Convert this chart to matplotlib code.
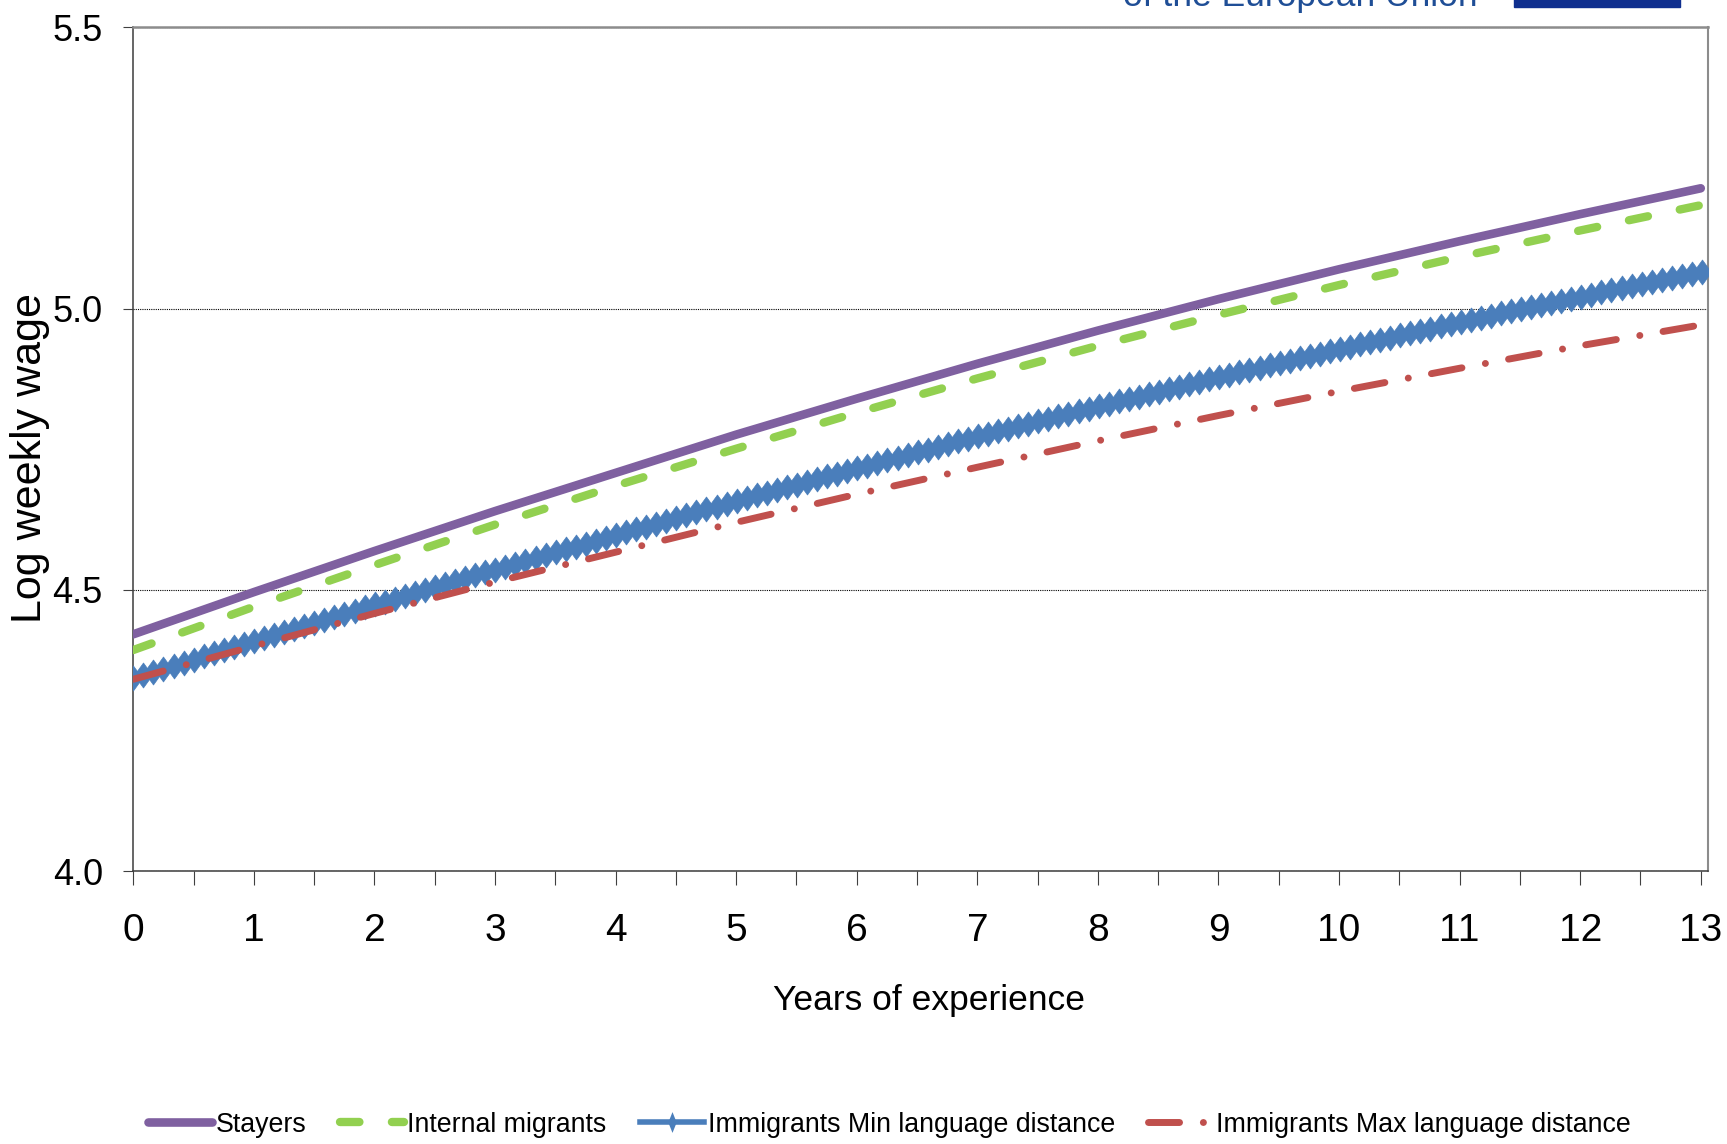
import numpy as np
import matplotlib
matplotlib.use('Agg')
import matplotlib.pyplot as plt
import matplotlib.colors as mcolors
from matplotlib.lines import Line2D
from matplotlib.path import Path
from matplotlib.patheffects import AbstractPathEffect
from matplotlib.transforms import Affine2D, IdentityTransform
from matplotlib.ticker import FixedLocator, FixedFormatter, FormatStrFormatter


plt.rcParams['font.family'] = ['Liberation Sans', 'DejaVu Sans']

# values, one per year of experience
years = [0, 1, 2, 3, 4, 5, 6, 7, 8, 9, 10, 11, 12, 13]
stayers = [4.421, 4.496, 4.569, 4.640, 4.708, 4.776, 4.840, 4.902, 4.961,
           5.017, 5.070, 5.120, 5.168, 5.214]
internal_migrants = [4.393, 4.470, 4.544, 4.616, 4.685, 4.751, 4.815, 4.876,
                     4.934, 4.989, 5.042, 5.092, 5.139, 5.184]
imm_min_dist = [4.343, 4.409, 4.474, 4.536, 4.597, 4.658, 4.716, 4.773, 4.826,
                4.878, 4.928, 4.976, 5.021, 5.065]
imm_max_dist = [4.341, 4.400, 4.458, 4.514, 4.567, 4.620, 4.670, 4.718, 4.765,
                4.810, 4.853, 4.894, 4.934, 4.971]

x_tick_labels = ['0', '1', '2', '3', '4', '5', '6', '7', '8', '9', '10', '11', '12', '13']
y_ticks = [4.0, 4.5, 5.0, 5.5]
labels = ['Stayers', 'Internal migrants', 'Immigrants Min language distance',
          'Immigrants Max language distance']

PURPLE = '#7f60a0'
GREEN = '#92d050'
BLUE = '#4a7ebb'
RED = '#c0504d'


class DiamondChain(AbstractPathEffect):
    """Draws the line and stamps tall diamonds along it at a fixed spacing."""

    def __init__(self, spacing, half_w, half_h, color):
        super().__init__()
        self.spacing = spacing
        self.half_w = half_w
        self.half_h = half_h
        self.color = color

    def draw_path(self, renderer, gc, tpath, affine, rgbFace=None):
        renderer.draw_path(gc, tpath, affine, rgbFace)
        pts = affine.transform(tpath.vertices)
        step = renderer.points_to_pixels(self.spacing)
        xs = np.arange(pts[0, 0], pts[-1, 0] + step / 2, step)
        ys = np.interp(xs, pts[:, 0], pts[:, 1])
        diamond = Path([(0, 1), (1, 0), (0, -1), (-1, 0), (0, 1)], closed=True)
        mtrans = Affine2D().scale(renderer.points_to_pixels(self.half_w),
                                  renderer.points_to_pixels(self.half_h))
        gc0 = renderer.new_gc()
        gc0.copy_properties(gc)
        gc0.set_linewidth(0.5)
        gc0.set_foreground(self.color)
        gc0.set_dashes(0, None)
        renderer.draw_markers(gc0, diamond, mtrans, Path(np.column_stack([xs, ys])),
                              IdentityTransform(), mcolors.to_rgb(self.color))
        gc0.restore()


fig = plt.figure(figsize=(17.27, 11.44), dpi=100)
ax = fig.add_axes([0.0772, 0.2386, 0.9118, 0.7374])

green_dash = (0, (2.33, 3.9))
red_dashdot = (0, (4.47, 3.43, 0.01, 3.39))

ax.plot(years, stayers, color=PURPLE, lw=6.2, solid_capstyle='round', zorder=5)
ax.plot(years, internal_migrants, color=GREEN, lw=6.0, linestyle=green_dash,
        dash_capstyle='round', zorder=4)
ax.plot(years, imm_min_dist, color=BLUE, lw=4.5, solid_capstyle='round', zorder=3,
        path_effects=[DiamondChain(7.24, 6.5, 9.0, BLUE)])
ax.plot(years, imm_max_dist, color=RED, lw=5.0, linestyle=red_dashdot,
        dash_capstyle='round', zorder=6)

ax.set_xlim(0, 13.06)
ax.set_ylim(4.0, 5.5)

ax.xaxis.set_major_locator(FixedLocator(np.arange(0, 13.01, 0.5)))
tick_text = []
for i in range(27):
    tick_text.append(x_tick_labels[i // 2] if i % 2 == 0 else '')
ax.xaxis.set_major_formatter(FixedFormatter(tick_text))
ax.set_yticks(y_ticks)
ax.yaxis.set_major_formatter(FormatStrFormatter('%.1f'))

ax.tick_params(axis='x', direction='out', length=10, width=0.8, color='#404040',
               labelsize=28, pad=20)
ax.tick_params(axis='y', direction='out', length=7, width=0.8, color='#404040',
               labelsize=26, pad=15)

ax.yaxis.grid(True, linestyle=(0, (1, 1)), color='black', lw=0.8)
ax.set_axisbelow(True)

ax.spines['left'].set_color('#3c3c3c')
ax.spines['left'].set_linewidth(1.1)
ax.spines['bottom'].set_color('#3c3c3c')
ax.spines['bottom'].set_linewidth(1.1)
ax.spines['top'].set_color('#8c8c8c')
ax.spines['top'].set_linewidth(1.8)
ax.spines['right'].set_color('#8c8c8c')
ax.spines['right'].set_linewidth(1.5)

ax.set_xlabel('Years of experience', fontsize=25.5, va='center')
ax.xaxis.set_label_coords(0.505, -0.154)
ax.set_ylabel('Log weekly wage', fontsize=31, va='center')
ax.yaxis.set_label_coords(-0.0656, 0.49)

# legend
tall_diamond = Path([(0, 1), (0.4, 0), (0, -1), (-0.4, 0), (0, 1)], closed=True)
handles = [
    Line2D([], [], color=PURPLE, lw=6.2, solid_capstyle='round'),
    Line2D([], [], color=GREEN, lw=6.0, linestyle=green_dash, dash_capstyle='round'),
    Line2D([], [], color=BLUE, lw=4.0, marker=tall_diamond, markersize=15,
           markeredgewidth=0),
    Line2D([], [], color=RED, lw=5.0, linestyle=red_dashdot, dash_capstyle='round'),
]
fig.legend(handles, labels, loc='center', bbox_to_anchor=(0.515, 0.017), ncol=4,
           frameon=False, fontsize=19.3, handlelength=2.4, handletextpad=0.12,
           columnspacing=1.25, borderpad=0)

# cut-off logo at the top right
fig.text(1123 / 1727, 1 - 6 / 1144, 'of the European Union', color='#1f4e96',
         fontsize=25.5, ha='left', va='baseline')
fig.patches.append(plt.Rectangle((1514 / 1727, 1 - 6.5 / 1144), 166 / 1727, 10 / 1144,
                                 transform=fig.transFigure, color='#0f2f8f'))

fig.savefig('out.png', dpi=100, facecolor='white')
